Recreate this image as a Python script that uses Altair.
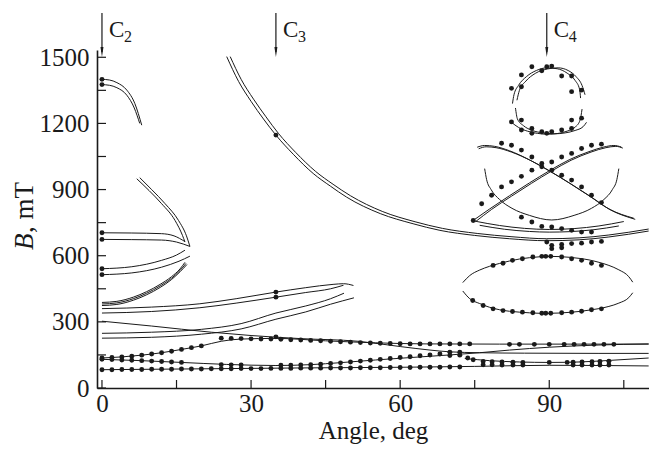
import altair as alt
import pandas as pd

FONT = "Liberation Serif"
INK = "#1a1a1a"

# ---------------- curves (angle in deg, B in mT) ----------------
# C2 region
u1 = [(0, 1400), (1.5, 1397), (3, 1385), (5, 1351), (6.6, 1291), (8, 1192)]
u2 = [(0, 1376), (1.5, 1373), (3, 1362), (5, 1328), (6.5, 1270), (7.6, 1200)]
v1 = [(7.0, 949), (9.5, 895), (12.0, 836), (14.7, 760), (16.2, 692), (16.7, 662)]
v2 = [(7.6, 954), (10, 900), (12.7, 836), (15.4, 760), (17.0, 690), (17.7, 642)]
h1 = [(0, 704), (6, 703), (12, 700), (14.5, 690), (16.7, 664)]
h2 = [(0, 674), (6, 673), (12, 671), (15, 662), (17.7, 642)]
l1 = [(0, 541), (6, 550), (12, 579), (15, 603), (16.7, 625)]
l2 = [(0, 514), (6, 522), (12, 548), (15.5, 575), (17.7, 598)]
t1 = [(0, 388), (3, 393), (6.3, 412), (9, 437), (11.7, 470), (14, 505), (15.7, 540), (16.7, 570)]
t2 = [(0, 381), (3, 386), (6.3, 405), (9, 430), (11.7, 463), (14, 498), (15.7, 533), (16.9, 565)]
t3 = [(0, 374), (3, 379), (6.3, 398), (9, 423), (11.7, 456), (14, 492), (15.7, 527), (17.1, 560)]
a1 = [(0, 360), (10, 367), (19.7, 382), (27, 405), (35, 435), (41, 455), (46.5, 470), (48.6, 473), (50.6, 465)]
a2 = [(0, 340), (10, 347), (19.7, 364), (27, 385), (35, 412), (41, 433), (46, 450), (48.6, 466)]
b1 = [(0, 248), (10, 253), (20, 266), (28, 292), (35, 340), (41, 372), (46, 405), (48.7, 430)]
b2 = [(0, 226), (10, 230), (20, 244), (28, 268), (35, 312), (41, 345), (46, 380), (50.7, 409)]
# low-field branches
lc = [(0, 303), (10, 281), (22, 253), (30, 238), (40, 224), (51.5, 212), (60, 188), (66, 172),
      (70, 164), (76, 160), (85, 158), (100, 157), (110, 157)]
ld = [(0, 136), (4, 141), (8, 149), (12, 160), (16, 175), (20, 191), (24, 212), (28, 222), (35, 225),
      (45, 214), (55, 205), (65, 200), (80, 199), (100, 199), (110, 199)]
le = [(0, 130), (8, 124), (16, 116), (25, 107), (35, 102), (42, 106), (48, 115), (55, 127), (62, 138),
      (70, 150), (76, 160), (82, 172), (90, 185), (100, 195), (110, 200)]
lf = [(73, 134), (78, 124), (84, 118), (90, 116), (96, 118), (102, 125), (110, 136)]
la = [(0, 83), (20, 87), (40, 91), (60, 94), (75, 98), (90, 103), (110, 100)]
# C3 branch (double line)
c3a = [(25.1, 1503), (27.5, 1390), (30, 1300), (32.5, 1220), (35, 1147), (38.5, 1060), (42.5, 973),
       (46, 915), (49.2, 866), (56, 791), (62.6, 745), (68, 715), (75, 692), (82, 677), (89.5, 668),
       (96, 672), (102, 685), (110, 712)]
c3b = [(25.8, 1503), (28, 1400), (30.5, 1310), (33, 1230), (35.5, 1155), (39, 1068), (43, 982),
       (46.5, 924), (50, 872), (56.5, 800), (63, 754), (68.5, 724), (75.5, 701), (82.5, 686),
       (89.5, 677), (96, 681), (102, 694), (110, 721)]
# C4 region
ell_top = [(72.6, 478), (74, 510), (76, 535), (78, 552), (80, 565), (82, 576), (84, 585), (86, 591),
           (88, 595), (90, 597), (92, 596), (94, 593), (96, 588), (98, 581), (100, 570), (102, 556),
           (104, 536), (106, 505), (106.8, 480)]
ell_bot = [(72.6, 440), (74, 405), (76, 383), (78, 366), (80, 355), (82, 348), (84, 344), (86, 341),
           (88, 339), (90, 339), (92, 340), (94, 343), (96, 347), (98, 353), (100, 360), (102, 370),
           (104, 385), (106, 410), (106.8, 432)]
x1 = [(74.7, 760), (78, 812), (82, 872), (86, 930), (90, 985), (94, 1035), (98, 1072), (101, 1093),
      (103, 1100), (104.5, 1093)]
x1b = [(75.2, 755), (78.4, 810), (82.4, 870), (86.4, 928), (90.4, 983), (94.4, 1033), (98.4, 1070),
       (101.4, 1090), (103.4, 1096), (104.8, 1088)]
x2 = [(75.5, 1092), (77, 1100), (79, 1096), (82, 1076), (86, 1035), (90, 985), (94, 930), (98, 872),
      (102, 812), (107, 770)]
x2b = [(75.8, 1085), (77.3, 1094), (79.3, 1090), (82.4, 1070), (86.4, 1030), (90.4, 980), (94.4, 925),
       (98.4, 867), (102.4, 807), (107.3, 765)]
u_arc = [(77, 995), (77.4, 945), (78.3, 900), (80, 855), (82.5, 815), (86, 783), (90.5, 762), (95, 783),
         (98.5, 815), (101, 855), (102.7, 900), (103.6, 945), (104, 995)]
s1 = [(75, 757), (80, 737), (85, 724), (90, 719), (95, 723), (100, 735), (105, 755)]
s2 = [(76, 738), (81, 720), (86, 710), (90, 707), (94, 709), (99, 718), (104, 735)]
cir_a_top = [(82.6, 1290), (82.9, 1330), (83.8, 1372), (85.4, 1412), (87.4, 1440), (89.5, 1452),
             (91.6, 1448), (93.6, 1428), (95.2, 1395), (96.1, 1355), (96.3, 1315)]
cir_b_top = [(83.5, 1305), (84, 1350), (85.3, 1392), (87.2, 1427), (89.6, 1447), (91.8, 1452),
             (93.8, 1440), (95.4, 1412), (96.6, 1372), (97.2, 1330)]
cir_a_bot = [(82.4, 1205), (83.8, 1182), (85.6, 1165), (87.6, 1155), (89.5, 1151), (91.6, 1154),
             (93.6, 1165), (95.3, 1185), (96.2, 1215), (96.6, 1265)]
cir_b_bot = [(83.2, 1270), (83.6, 1220), (84.8, 1190), (86.6, 1168), (88.8, 1157), (91, 1153),
             (93.2, 1157), (95.2, 1168), (96.8, 1185), (97.5, 1205)]

# ---------------- experimental points ----------------
dots_axis = [(0, 1400), (0, 1376), (0, 704), (0, 674), (0, 541), (0, 514), (35, 1147), (35, 435), (35, 412)]
dots_la = [(0, 83), (2, 83), (4, 84), (6, 84), (8, 84), (10, 85), (12, 85), (14, 85), (16, 86), (18, 86),
           (20, 86), (22, 87), (24, 87), (26, 87), (28, 88), (30, 88), (32, 88), (34, 89), (36, 89),
           (38, 89), (40, 90), (42, 90), (44, 90), (46, 91), (48, 91), (50, 91), (52, 92), (54, 92),
           (56, 92), (58, 93), (60, 93), (62, 93), (64, 94), (66, 94), (68, 94), (70, 95), (72, 95)]
dots_ld = [(0, 136), (2, 138), (4, 141), (6, 144), (8, 149), (10, 154), (12, 160), (14, 167), (16, 175),
           (18, 183), (20, 191), (24, 226), (26, 225), (28, 224), (30, 223), (32, 222), (34, 222),
           (35, 232), (36, 221), (38, 219), (40, 218), (42, 216), (44, 214), (46, 212), (48, 210),
           (50, 208), (52, 206), (54, 204), (56, 203), (58, 202), (60, 201), (62, 200), (64, 200),
           (66, 200), (68, 200), (70, 200), (72, 200), (74, 200), (82, 198), (84, 198), (87, 198),
           (90, 198), (93, 198), (95, 198), (97, 198), (99, 198), (101, 198), (103, 198)]
dots_le = [(0, 130), (2, 129), (4, 127), (6, 126), (8, 124), (10, 122), (12, 120), (14, 118), (16, 116),
           (24, 106), (26, 105), (28, 104), (36, 103), (38, 103), (40, 104), (42, 106), (44, 108),
           (46, 111), (48, 114), (50, 118), (52, 122), (54, 126), (56, 130), (58, 134), (60, 138),
           (62, 142), (64, 146), (66, 150), (68, 154), (70, 147), (70, 162), (72, 149), (72, 162)]
dots_lf = [(73.6, 136), (74.7, 128), (76.7, 120), (76.7, 105), (78.5, 119), (78.5, 105), (80.5, 118),
           (80.5, 104), (82.7, 117), (82.7, 104), (84.7, 116), (84.7, 104), (90, 116), (93.6, 116),
           (94.8, 117), (94.8, 104), (96.6, 118), (96.6, 104), (98.6, 119), (98.6, 104), (100.2, 120),
           (100.2, 104), (102, 121), (102, 104)]
dots_circle = [(82.4, 1359), (84.4, 1420), (84.4, 1366), (86.5, 1457), (88.5, 1439), (89.5, 1457),
               (90.5, 1460), (92.5, 1415), (94.5, 1415), (94.5, 1344), (96.5, 1351), (82.4, 1207),
               (84.4, 1215), (84.4, 1170), (86.5, 1177), (86.5, 1155), (88.5, 1162), (89.5, 1155),
               (90.5, 1162), (92.5, 1170), (94.5, 1215), (94.5, 1177), (96.5, 1224)]
dots_rise = [(74.7, 760), (76.4, 836), (78.4, 874), (80.4, 912), (82.4, 935), (84.4, 960), (86.5, 988),
             (88.5, 1003), (90.5, 1025), (92.5, 1048), (94.5, 1064), (96.5, 1086), (98.5, 1101),
             (100.5, 1106)]
dots_fall = [(80.4, 1110), (82.4, 1101), (84.4, 1079), (86.5, 1048), (88.5, 1018), (90.5, 988),
             (92.5, 965), (94.5, 943), (96.5, 912), (98.5, 874), (100.5, 841)]
dots_low = [(84.4, 775), (86.5, 753), (88.5, 733), (90.5, 730), (92.5, 723), (94.5, 715), (96.5, 707),
            (98.5, 707)]
dots_c3 = [(89.5, 662), (90.5, 647), (90.5, 632), (92.5, 651), (92.5, 636), (94.5, 655), (96.5, 657),
           (98.5, 662), (100.5, 665)]
dots_ell = [(78.7, 556), (80.7, 566), (82.6, 579), (84.6, 586), (86.7, 594), (88.5, 597), (89.3, 597),
            (90.3, 597), (92.5, 594), (94.5, 586), (96.5, 579), (98.5, 566), (100.5, 556),
            (74.6, 397), (76.7, 374), (78.7, 359), (80.7, 351), (82.6, 347), (84.6, 344), (86.7, 341),
            (88.5, 339), (89.3, 339), (90.3, 339), (92.5, 341), (94.5, 344), (96.5, 348), (98.5, 355),
            (100.5, 359)]

# axis ticks / labels
x_tick_values = [0, 15, 30, 45, 60, 75, 90, 105]
y_tick_values = [0, 150, 300, 450, 600, 750, 900, 1050, 1200, 1350, 1500]
x_label_values = [0, 30, 60, 90]
y_label_values = [0, 300, 600, 900, 1200, 1500]

# site markers
site_x = [0, 35, 89.5]
site_sub = ["2", "3", "4"]

# ---------------- build tables ----------------
curve_list = {
    "u1": u1, "u2": u2, "v1": v1, "v2": v2, "h1": h1, "h2": h2, "l1": l1, "l2": l2,
    "t1": t1, "t2": t2, "t3": t3, "a1": a1, "a2": a2, "b1": b1, "b2": b2,
    "lc": lc, "ld": ld, "le": le, "lf": lf, "la": la, "c3a": c3a, "c3b": c3b,
    "ell_top": ell_top, "ell_bot": ell_bot, "x1": x1, "x1b": x1b, "x2": x2, "x2b": x2b,
    "u_arc": u_arc, "s1": s1, "s2": s2, "cat": cir_a_top, "cbt": cir_b_top,
    "cab": cir_a_bot, "cbb": cir_b_bot,
}
rows = []
for name, pts in curve_list.items():
    for i, (a, b) in enumerate(pts):
        rows.append({"curve": name, "i": i, "angle": a, "B": b})
lines_df = pd.DataFrame(rows)

dot_rows = []
for grp in [dots_axis, dots_la, dots_ld, dots_le, dots_lf, dots_circle, dots_rise, dots_fall,
            dots_low, dots_c3, dots_ell]:
    for a, b in grp:
        dot_rows.append({"angle": a, "B": b})
dots_df = pd.DataFrame(dot_rows)

XD = [-1.0, 110.07]
YD = [0, 1533]
xs = alt.Scale(domain=XD, nice=False, zero=False)
ys = alt.Scale(domain=YD, nice=False, zero=False)

x_axis = alt.Axis(values=x_label_values, ticks=False, grid=False, domainColor=INK, domainWidth=1.6,
                  labelFont=FONT, labelFontSize=25, labelColor=INK, labelPadding=3, format="d",
                  title="Angle, deg", titleFont=FONT, titleFontSize=25, titleFontWeight="normal",
                  titleColor=INK, titlePadding=2)
y_axis = alt.Axis(values=y_label_values, ticks=False, grid=False, domainColor=INK, domainWidth=1.6,
                  labelFont=FONT, labelFontSize=25, labelColor=INK, labelPadding=8, format="d",
                  title=None)

base_lines = alt.Chart(lines_df).mark_line(color=INK, strokeWidth=1.0, interpolate="monotone").encode(
    x=alt.X("angle:Q", scale=xs, axis=x_axis),
    y=alt.Y("B:Q", scale=ys, axis=y_axis),
    detail="curve:N",
    order="i:Q",
)

pts = alt.Chart(dots_df).mark_circle(color=INK, size=24, opacity=1).encode(
    x=alt.X("angle:Q", scale=xs), y=alt.Y("B:Q", scale=ys))

xt_df = pd.DataFrame({"v": x_tick_values})
yt_df = pd.DataFrame({"v": y_tick_values})
x_ticks = alt.Chart(xt_df).mark_rule(color=INK, strokeWidth=1.2).encode(
    x=alt.X("v:Q", scale=xs), y=alt.value(338), y2=alt.value(330))
y_ticks = alt.Chart(yt_df).mark_rule(color=INK, strokeWidth=1.2).encode(
    y=alt.Y("v:Q", scale=ys), x=alt.value(0), x2=alt.value(9))

site_df = pd.DataFrame({"angle": site_x, "sub": site_sub, "top": [1701] * 3, "head": [1524] * 3,
                        "cb": [1592] * 3, "sb": [1569] * 3})
arrow_shaft = alt.Chart(site_df).mark_rule(color=INK, strokeWidth=1.2).encode(
    x=alt.X("angle:Q", scale=xs), y=alt.Y("top:Q", scale=ys), y2="head:Q")
arrow_head = alt.Chart(site_df).mark_point(
    shape="M-0.3,-1L0.3,-1L0,1Z", filled=True, color=INK, size=100, opacity=1).encode(
    x=alt.X("angle:Q", scale=xs), y=alt.Y("head:Q", scale=ys))
c_text = alt.Chart(site_df).mark_text(font=FONT, fontSize=23, color=INK, align="left", dx=7,
                                      baseline="alphabetic").encode(
    x=alt.X("angle:Q", scale=xs), y=alt.Y("cb:Q", scale=ys), text=alt.value("C"))
c_sub = alt.Chart(site_df).mark_text(font=FONT, fontSize=16, color=INK, align="left", dx=22,
                                     baseline="alphabetic").encode(
    x=alt.X("angle:Q", scale=xs), y=alt.Y("sb:Q", scale=ys), text="sub:N")

ytitle_b = alt.Chart(site_df.head(1)).mark_text(font=FONT, fontSize=27, fontStyle="italic", color=INK,
                                                angle=270, align="left", baseline="alphabetic").encode(
    x=alt.value(-64), y=alt.value(200), text=alt.value("B"))
ytitle_rest = alt.Chart(site_df.head(1)).mark_text(font=FONT, fontSize=27, color=INK,
                                                   angle=270, align="left", baseline="alphabetic").encode(
    x=alt.value(-64), y=alt.value(183), text=alt.value(", mT"))

chart = alt.layer(base_lines, pts, x_ticks, y_ticks, arrow_shaft, arrow_head, c_text, c_sub,
                  ytitle_b, ytitle_rest).properties(
    width=552, height=338,
    autosize=alt.AutoSizeParams(type="none"),
    padding={"left": 97, "top": 50, "right": 0, "bottom": 65},
    background="white",
).configure_view(stroke=None)

chart.save("out.html", embed_options={"renderer": "svg", "actions": False})
